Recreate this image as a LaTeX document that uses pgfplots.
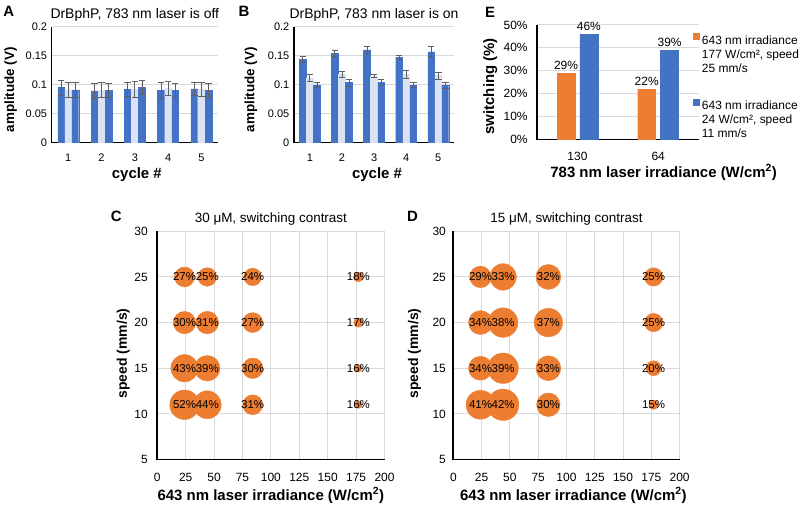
\documentclass[border=0pt]{standalone}
\usepackage{pgfplots}
\pgfplotsset{compat=1.18}
\usepackage{pgfplotstable}
\usepackage{fontspec}
\setmainfont{Liberation Sans}
\definecolor{exblue}{HTML}{4472C4}
\definecolor{exlight}{HTML}{DAE3F3}
\definecolor{exorange}{HTML}{ED7D31}
\definecolor{gridgray}{HTML}{D9D9D9}
\definecolor{errgray}{HTML}{606060}
\newcommand{\fs}[1]{\fontsize{#1}{#1}\selectfont}

\pgfplotstableread{
c b1 e1 l el b2 e2
1 0.0952 0.0130 0.0914 0.0127 0.0911 0.0130
2 0.0894 0.0130 0.0906 0.0130 0.0900 0.0124
3 0.0920 0.0127 0.0920 0.0144 0.0957 0.0124
4 0.0903 0.0138 0.0934 0.0124 0.0900 0.0124
5 0.0929 0.0118 0.0920 0.0127 0.0906 0.0118
}\dataA
\pgfplotstableread{
c b1 e1 l el b2 e2
1 0.1438 0.0058 0.1118 0.0060 0.0992 0.0043
2 0.1541 0.0052 0.1185 0.0052 0.1038 0.0060
3 0.1601 0.0055 0.1150 0.0030 0.1038 0.0049
4 0.1472 0.0040 0.1179 0.0069 0.0995 0.0046
5 0.1570 0.0086 0.1159 0.0060 0.0992 0.0049
}\dataB
\pgfplotstableread{
x y v r
24 25 27 10
44 25 25 9.3
84 25 24 8.8
177 25 18 5
24 20 30 11.2
44 20 31 11.3
84 20 27 10
177 20 17 4.7
24 15 43 13.7
44 15 39 12.8
84 15 30 10.3
177 15 16 3.7
24 11 52 14.8
44 11 44 14
84 11 31 10
177 11 16 3.7
}\dataC
\pgfplotstableread{
x y v r
24 25 29 10.8
44 25 33 13.3
84 25 32 12.5
177 25 25 9.2
24 20 34 12
44 20 38 14.8
84 20 37 14.3
177 20 25 9.2
24 15 34 12
44 15 39 15.3
84 15 33 12.5
177 15 20 7.5
24 11 41 14.5
44 11 42 15.8
84 11 30 11.8
177 11 15 4.7
}\dataD

\pgfplotsset{
  exbase/.style={
    scale only axis, anchor=south west, set layers,
    axis x line*=bottom, axis y line*=left,
    axis line style={-, black, line width=1.8pt, on layer=axis foreground},
    major tick length=0pt,
    major grid style={gridgray, line width=0.9pt},
    tick label style={font=\fs{11}, black},
    /pgf/number format/assume math mode=true,
    title style={font=\fs{14}, anchor=south},
    xlabel style={font=\bfseries\fs{15}, anchor=center},
    ylabel style={font=\bfseries\fs{14}, anchor=center},
    xticklabel style={yshift=-8pt},
  },
  errbar/.style={
    /pgfplots/error bars/y dir=both,
    /pgfplots/error bars/y explicit,
    /pgfplots/error bars/error bar style={errgray, line width=0.8pt},
    /pgfplots/error bars/error mark options={errgray, rotate=90, mark size=3.3pt, line width=0.8pt},
  },
  barAB/.style={
    exbase, ymajorgrids, ybar=0.3pt, bar width=6.8pt,
    xmin=0.5, xmax=5.5, xtick={1,2,3,4,5},
    ymin=0, ymax=0.2, ytick={0,0.05,0.1,0.15,0.2},
    scaled y ticks=false, yticklabel style={/pgf/number format/fixed},
    width=167pt, height=116pt,
    xlabel={cycle \#}, ylabel={amplitude (V)},
    ylabel style={font=\bfseries\fs{13.5}},
    title style={at={(axis description cs:0.5,1)}, anchor=south, yshift=-4pt},
  },
  bubble/.style={
    exbase, xmajorgrids, ymajorgrids,
    xmin=0, xmax=200, ymin=5, ymax=30,
    xtick={0,25,50,75,100,125,150,175,200}, ytick={5,10,15,20,25,30},
    tick label style={font=\fs{12}},
    xticklabel style={yshift=-2pt},
    height=229pt,
    xlabel={643 nm laser irradiance (W/cm\textsuperscript{2})},
    ylabel={speed (mm/s)},
    title style={font=\fs{13.5}, anchor=south, at={([yshift=-4pt]axis description cs:0.5,1)}},
    xlabel style={at={([yshift=-36pt]axis description cs:0.5,0)}},
  },
  bubbleplot/.style={
    scatter, only marks, mark=*, color=exorange,
    mark options={draw=exorange, fill=exorange},
    visualization depends on={\thisrow{r} \as \rad},
    scatter/@pre marker code/.code={\scope[mark size=\rad]},
    scatter/@post marker code/.code={\endscope},
  },
  bubblelabels/.style={
    only marks, mark=none, point meta=explicit,
    nodes near coords={\pgfmathprintnumber{\pgfplotspointmeta}\%},
    nodes near coords align=center,
    every node near coord/.append style={font=\fs{11.5}, text=black, inner sep=0pt},
  },
}

\begin{document}
\begin{tikzpicture}
\path (0,0) rectangle (800pt,502pt);

% Panel A
\begin{axis}[barAB, at={(51pt,359pt)},
  title={DrBphP, 783 nm laser is off},
  ylabel style={at={([xshift=-41pt,yshift=-5pt]axis description cs:0,0.5)}},
  xlabel style={at={([xshift=2pt,yshift=-32pt]axis description cs:0.5,0)}},
  yticklabel style={xshift=-1pt}]
\addplot[fill=exblue, draw=exblue, errbar] table[x=c, y=b1, y error=e1]{\dataA};
\addplot[fill=exlight, draw=exlight, errbar] table[x=c, y=l, y error=el]{\dataA};
\addplot[fill=exblue, draw=exblue, errbar] table[x=c, y=b2, y error=e2]{\dataA};
\end{axis}

% Panel B
\begin{axis}[barAB, at={(294pt,359pt)}, width=161pt,
  title={DrBphP, 783 nm laser is on},
  ylabel style={at={([xshift=-43pt,yshift=-5pt]axis description cs:0,0.5)}},
  xlabel style={at={([xshift=3pt,yshift=-32pt]axis description cs:0.5,0)}},
  yticklabel style={xshift=-1pt}]
\addplot[fill=exblue, draw=exblue, errbar] table[x=c, y=b1, y error=e1]{\dataB};
\addplot[fill=exlight, draw=exlight, errbar] table[x=c, y=l, y error=el]{\dataB};
\addplot[fill=exblue, draw=exblue, errbar] table[x=c, y=b2, y error=e2]{\dataB};
\end{axis}

% Panel E
\begin{axis}[exbase, ymajorgrids, at={(538pt,362pt)}, width=162pt, height=115pt,
  ymin=0, ymax=50, ytick={0,10,20,30,40,50},
  yticklabel={\pgfmathprintnumber{\tick}\%},
  tick label style={font=\fs{12}},
  yticklabel style={xshift=-6pt},
  xticklabel style={yshift=-1pt},
  xmin=-0.5, xmax=1.5, xtick={0,1}, xticklabels={130,64},
  ybar=5pt, bar width=18pt,
  ylabel={switching (\%)},
  ylabel style={font=\bfseries\fs{15}, at={([xshift=-47pt,yshift=-4pt]axis description cs:0,0.5)}},
  xlabel={783 nm laser irradiance (W/cm\textsuperscript{2})},
  xlabel style={at={([xshift=46pt,yshift=-33pt]axis description cs:0.5,0)}},
  nodes near coords={\pgfmathprintnumber{\pgfplotspointmeta}\%},
  every node near coord/.append style={font=\fs{12}, black},
  legend cell align=left,
  legend image code/.code={\fill[#1] (0pt,1pt) rectangle (6pt,7pt);},
  legend style={at={(axis description cs:1,1)}, anchor=north west, xshift=-6pt, yshift=-8pt,
    draw=none, fill=none, inner sep=0pt, outer sep=0pt, font=\fontsize{12}{14}\selectfont,
    column sep=2pt, row sep=52pt, nodes={inner sep=1pt}},
]
\addplot[fill=exorange, draw=exorange] coordinates {(0,29) (1,22)};
\addlegendentry{\begin{tabular}[t]{@{}l@{}}643 nm irradiance\\177 W/cm², speed\\25 mm/s\end{tabular}}
\addplot[fill=exblue, draw=exblue] coordinates {(0,46) (1,39)};
\addlegendentry{\begin{tabular}[t]{@{}l@{}}643 nm irradiance\\24 W/cm², speed\\11 mm/s\end{tabular}}
\end{axis}

% Panel C
\begin{axis}[bubble, at={(157pt,41pt)}, width=228pt,
  title={30 μM, switching contrast},
  ylabel style={at={([xshift=-34pt,yshift=-8pt]axis description cs:0,0.5)}},
  yticklabel style={xshift=-6pt}]
\addplot[bubbleplot] table[x=x, y=y]{\dataC};
\addplot[bubblelabels] table[x=x, y=y, meta=v]{\dataC};
\end{axis}

% Panel D
\begin{axis}[bubble, at={(454pt,41pt)}, width=227pt,
  title={15 μM, switching contrast},
  ylabel style={at={([xshift=-39pt,yshift=-8pt]axis description cs:0,0.5)}},
  xlabel style={at={([xshift=7pt,yshift=-36pt]axis description cs:0.5,0)}},
  yticklabel style={xshift=-4pt}]
\addplot[bubbleplot] table[x=x, y=y]{\dataD};
\addplot[bubblelabels] table[x=x, y=y, meta=v]{\dataD};
\end{axis}

% Panel letters
\node[font=\bfseries\fs{15}] at (8pt,491pt) {A};
\node[font=\bfseries\fs{15}] at (244pt,491pt) {B};
\node[font=\bfseries\fs{15}] at (491pt,490pt) {E};
\node[font=\bfseries\fs{15}] at (116pt,285pt) {C};
\node[font=\bfseries\fs{15}] at (413pt,285pt) {D};
\end{tikzpicture}
\end{document}
